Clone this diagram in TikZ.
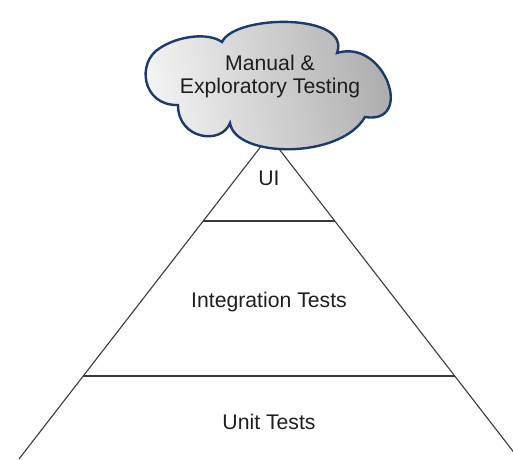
\documentclass[tikz,border=0pt]{standalone}
\usepackage{fontspec}
\setmainfont{Liberation Sans}
\usetikzlibrary{calc}
\definecolor{cloudedge}{HTML}{1C3A6E}
\definecolor{linegray}{HTML}{3A3A3A}
\definecolor{txt}{HTML}{1E1E1E}
\tikzset{
  pyr/.style={draw=linegray, line width=1.1pt},
  lbl/.style={anchor=base, text=txt, inner sep=0pt, font={\fontsize{21.2}{23}\selectfont}, align=center},
  cloudshape/.style={draw=cloudedge, line width=2.4pt, left color=white!92!gray, right color=gray!68, shading angle=100}
}
\begin{document}
\begin{tikzpicture}[x=1pt, y=-1pt]
\useasboundingbox (0,0) rectangle (513,459);
\clip (0,0) rectangle (513,459);
% pyramid
\coordinate (apex) at (269,136);
\coordinate (bl) at (19,459);
\coordinate (br) at (519,459);
\coordinate (l1) at ($(apex)!0.263!(bl)$);
\coordinate (r1) at ($(apex)!0.263!(br)$);
\coordinate (l2) at ($(apex)!0.743!(bl)$);
\coordinate (r2) at ($(apex)!0.743!(br)$);
\draw[pyr] (bl) -- (apex) -- (br);
\draw[pyr] (l1) -- (r1);
\draw[pyr] (l2) -- (r2);
% cloud
\path[cloudshape] (178,105)
  .. controls (142,106) and (136,62) .. (160,48)
  .. controls (178,36) and (208,32) .. (222,42)
  .. controls (235,14) and (352,13) .. (337,53)
  .. controls (385,38) and (415,125) .. (365,117)
  .. controls (340,160) and (235,158) .. (230,123)
  .. controls (222,145) and (178,140) .. (178,105) -- cycle;
% labels
\node[lbl] (cloudtext) at (270,93) {Manual \&\\Exploratory Testing};
\node[lbl] (ui) at (269,185) {UI};
\node[lbl] (integ) at (269,307) {Integration Tests};
\node[lbl] (unit) at (269,429) {Unit Tests};
\end{tikzpicture}
\end{document}
